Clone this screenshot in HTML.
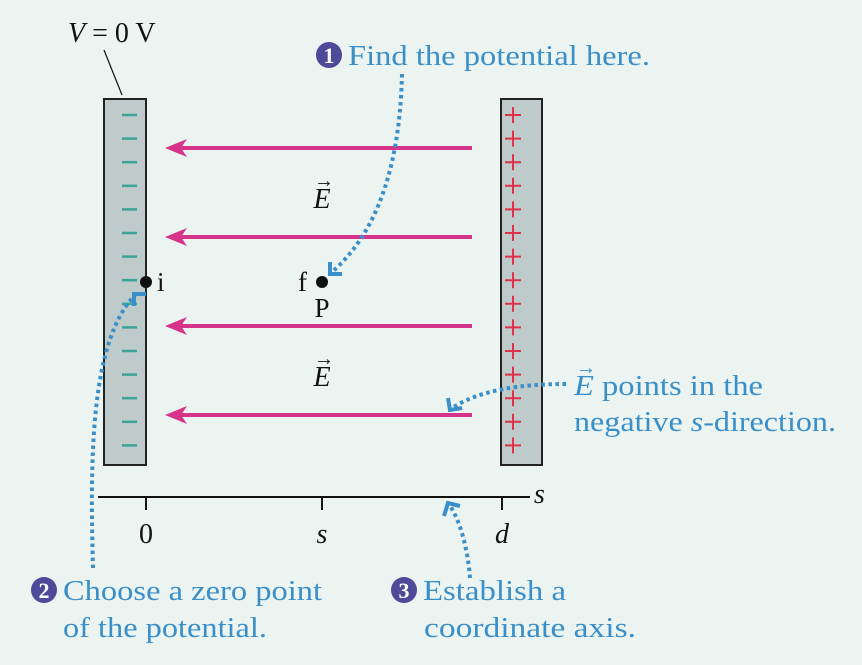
<!DOCTYPE html>
<html><head><meta charset="utf-8"><style>
body{margin:0;background:#ebf4f1;}
svg, svg text{font-family:"Liberation Serif","Times New Roman",serif;}
</style></head><body>
<svg width="862" height="660" viewBox="0 0 862 660" font-family="Liberation Serif, serif">
<rect width="862" height="660" fill="#ebf4f1"/>
<g id="plates">
<rect x="104" y="99" width="42" height="366" fill="#bfcacb" stroke="#222" stroke-width="2"/>
<rect x="501" y="99" width="41" height="366" fill="#bfcacb" stroke="#222" stroke-width="2"/>
</g>
<g id="charges"></g>
<g id="arrows"></g>
<text x="68" y="42" font-size="28" fill="#111"><tspan font-style="italic">V</tspan> = 0 V</text>
<line x1="104" y1="50" x2="122" y2="95" stroke="#111" stroke-width="1.2"/>
<text x="322" y="208" font-size="28" font-style="italic" text-anchor="middle" fill="#111">E</text>
<text x="324" y="187" font-size="20" text-anchor="middle" fill="#111">→</text>
<text x="322" y="386" font-size="28" font-style="italic" text-anchor="middle" fill="#111">E</text>
<text x="324" y="365" font-size="20" text-anchor="middle" fill="#111">→</text>
<circle cx="146" cy="282" r="6" fill="#111"/>
<text x="157" y="291" font-size="27" fill="#111">i</text>
<circle cx="322" cy="282" r="6" fill="#111"/>
<text x="298" y="291" font-size="27" fill="#111">f</text>
<text x="322" y="317" font-size="27" text-anchor="middle" fill="#111">P</text>
<g stroke="#111" stroke-width="2">
<line x1="98" y1="497" x2="530" y2="497"/>
<line x1="146" y1="497" x2="146" y2="510"/>
<line x1="322" y1="497" x2="322" y2="510"/>
<line x1="502" y1="497" x2="502" y2="510"/>
</g>
<text x="534" y="503" font-size="28" font-style="italic" fill="#111">s</text>
<text x="146" y="543" font-size="28" text-anchor="middle" fill="#111">0</text>
<text x="322" y="543" font-size="28" font-style="italic" text-anchor="middle" fill="#111">s</text>
<text x="502" y="543" font-size="28" font-style="italic" text-anchor="middle" fill="#111">d</text>
<g fill="none" stroke="#3b8fc8" stroke-width="4" stroke-dasharray="3.5 3.5">
<path d="M402 74 C400 160 380 230 332 272"/>
<path d="M93 568 C90 460 90 340 136 294"/>
<path d="M470 578 C468 550 460 520 450 506"/>
<path d="M566 384 C520 384 480 390 452 408"/>
</g>
<g fill="none" stroke="#3b8fc8" stroke-width="4">
<path d="M330 262 L330 274 L342 274"/>
<path d="M134 306 L134 294 L146 294"/>
<path d="M444 516 L448 503 L460 506"/>
<path d="M448 398 L450 410 L462 408"/>
</g>
<g font-size="29" fill="#3b8fc8">
<circle cx="329" cy="55" r="13" fill="#4d4a9a"/><text x="329" y="63" font-size="22" font-weight="bold" fill="#fff" text-anchor="middle">1</text>
<text x="348" y="65" textLength="302" lengthAdjust="spacingAndGlyphs">Find the potential here.</text>
<circle cx="44" cy="590" r="13" fill="#4d4a9a"/><text x="44" y="598" font-size="22" font-weight="bold" fill="#fff" text-anchor="middle">2</text>
<text x="63" y="600" textLength="259" lengthAdjust="spacingAndGlyphs">Choose a zero point</text>
<text x="63" y="637" textLength="204" lengthAdjust="spacingAndGlyphs">of the potential.</text>
<circle cx="404" cy="590" r="13" fill="#4d4a9a"/><text x="404" y="598" font-size="22" font-weight="bold" fill="#fff" text-anchor="middle">3</text>
<text x="423" y="600" textLength="143" lengthAdjust="spacingAndGlyphs">Establish a</text>
<text x="424" y="637" textLength="212" lengthAdjust="spacingAndGlyphs">coordinate axis.</text>
<text x="574" y="395" textLength="189" lengthAdjust="spacingAndGlyphs"><tspan font-style="italic">E</tspan> points in the</text>
<text x="576" y="374" font-size="20">→</text>
<text x="574" y="431" textLength="262" lengthAdjust="spacingAndGlyphs">negative <tspan font-style="italic">s</tspan>-direction.</text>
</g>
</svg>
<script>
const arrowRows=[148,237,326,415];
const chargeRows=[115,138.6,162.2,185.8,209.4,233,256.6,280.2,303.8,327.4,351,374.6,398.2,421.8,445.4];
const NS='http://www.w3.org/2000/svg';
const ch=document.getElementById('charges');
chargeRows.forEach((y,i)=>{
 const m=document.createElementNS(NS,'line');
 m.setAttribute('x1',122);m.setAttribute('x2',137);m.setAttribute('y1',y);m.setAttribute('y2',y);
 m.setAttribute('stroke','#3aa597');m.setAttribute('stroke-width','2.5');
 
 
 ch.appendChild(m);
 const p=document.createElementNS(NS,'path');
 p.setAttribute('d',`M505 ${y}h16M513 ${y-8}v16`);
 p.setAttribute('stroke','#e0304a');p.setAttribute('stroke-width','2');
 
 
 ch.appendChild(p);
});
const ar=document.getElementById('arrows');
arrowRows.forEach(y=>{
 const l=document.createElementNS(NS,'line');
 l.setAttribute('x1',472);l.setAttribute('x2',180);l.setAttribute('y1',y);l.setAttribute('y2',y);
 l.setAttribute('stroke','#d6338a');l.setAttribute('stroke-width','4');
 
 
 ar.appendChild(l);
 const h=document.createElementNS(NS,'path');
 h.setAttribute('d',`M165 ${y}L187 ${y-9}L181 ${y}L187 ${y+9}Z`);
 h.setAttribute('fill','#d6338a');
 
 
 ar.appendChild(h);
});
</script>
</body></html>
